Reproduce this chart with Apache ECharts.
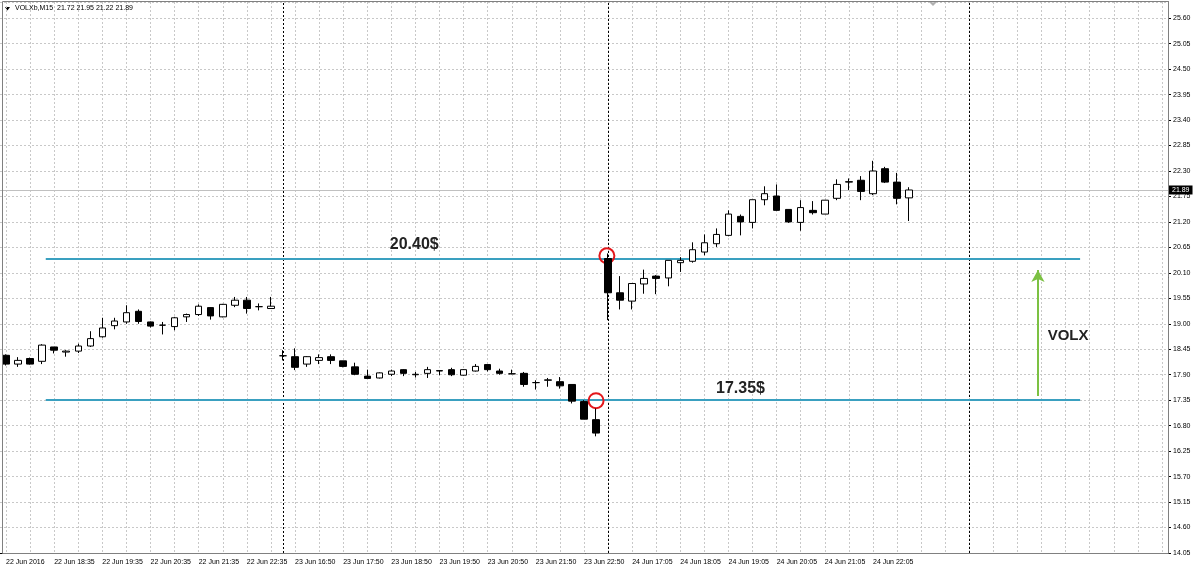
<!DOCTYPE html>
<html>
<head>
<meta charset="utf-8">
<title>VOLXb,M15</title>
<script src="https://cdn.jsdelivr.net/npm/echarts@6/dist/echarts.min.js"></script>
<style>
  html, body { margin: 0; padding: 0; background: #fff; }
  #chart { width: 1200px; height: 571px; }
</style>
</head>
<body>
<div id="chart"></div>
<script>
  const symbolName = 'VOLXb,M15'

  // M15 bar times per session
  const times22 = ['17:35', '17:50', '18:05', '18:20', '18:35', '18:50', '19:05', '19:20', '19:35', '19:50',
    '20:05', '20:20', '20:35', '20:50', '21:05', '21:20', '21:35', '21:50', '22:05', '22:20', '22:35', '22:50', '23:05']
  const times23 = ['16:35', '16:50', '17:05', '17:20', '17:35', '17:50', '18:05', '18:20', '18:35', '18:50',
    '19:05', '19:20', '19:35', '19:50', '20:05', '20:20', '20:35', '20:50', '21:05', '21:20', '21:35', '21:50',
    '22:05', '22:20', '22:35', '22:50', '23:05']
  const times24 = ['16:35', '16:50', '17:05', '17:20', '17:35', '17:50', '18:05', '18:20', '18:35', '18:50',
    '19:05', '19:20', '19:35', '19:50', '20:05', '20:20', '20:35', '20:50', '21:05', '21:20', '21:35', '21:50',
    '22:05', '22:20', '22:35', '22:50']

  const tickLabels = ['22 Jun 2016', '22 Jun 18:35', '22 Jun 19:35', '22 Jun 20:35', '22 Jun 21:35', '22 Jun 22:35',
    '23 Jun 16:50', '23 Jun 17:50', '23 Jun 18:50', '23 Jun 19:50', '23 Jun 20:50', '23 Jun 21:50', '23 Jun 22:50',
    '24 Jun 17:05', '24 Jun 18:05', '24 Jun 19:05', '24 Jun 20:05', '24 Jun 21:05', '24 Jun 22:05']

  const opens = [18.32, 18.13, 18.25, 18.19, 18.50, 18.39, 18.41, 18.52, 18.72, 18.96,
    19.04, 19.27, 19.04, 18.97, 18.94, 19.15, 19.20, 19.35, 19.15, 19.40, 19.51, 19.37, 19.33,
    18.31, 18.29, 18.13, 18.21, 18.29, 18.20, 18.07, 17.87, 17.83, 17.91, 18.01, 17.90, 17.93,
    17.98, 18.01, 17.89, 17.98, 18.12, 17.98, 17.92, 17.93, 17.73, 17.78, 17.75, 17.69, 17.32, 16.93,
    20.41, 19.67, 19.49, 19.86, 20.03, 19.99, 20.32, 20.35, 20.55, 20.73, 20.91, 21.32, 21.19,
    21.68, 21.76, 21.47, 21.19, 21.45, 21.37, 21.71, 22.06, 22.10, 21.81, 22.35, 22.06, 21.72]
  const closes = [18.13, 18.21, 18.13, 18.54, 18.43, 18.41, 18.52, 18.68, 18.91, 19.06,
    19.24, 19.05, 18.95, 18.97, 19.13, 19.20, 19.38, 19.17, 19.42, 19.51, 19.33, 19.37, 19.38,
    18.31, 18.06, 18.29, 18.27, 18.21, 18.08, 17.91, 17.82, 17.94, 17.98, 17.93, 17.91, 18.01,
    17.99, 17.90, 18.01, 18.08, 18.01, 17.93, 17.92, 17.69, 17.73, 17.79, 17.66, 17.33, 16.94, 16.64,
    19.67, 19.51, 19.87, 19.98, 19.98, 20.37, 20.37, 20.60, 20.75, 20.93, 21.37, 21.20, 21.68,
    21.81, 21.45, 21.20, 21.51, 21.40, 21.67, 22.01, 22.07, 21.86, 22.30, 22.06, 21.71, 21.89]
  const lows = [18.10, 18.07, 18.12, 18.13, 18.36, 18.29, 18.37, 18.50, 18.70, 18.88,
    19.00, 19.00, 18.92, 18.77, 18.86, 19.04, 19.17, 19.09, 19.14, 19.36, 19.22, 19.29, 19.33,
    18.21, 18.00, 18.07, 18.13, 18.13, 18.06, 17.89, 17.82, 17.82, 17.87, 17.87, 17.84, 17.83,
    17.89, 17.87, 17.88, 17.97, 17.97, 17.90, 17.91, 17.64, 17.58, 17.64, 17.60, 17.28, 16.94, 16.57,
    19.08, 19.31, 19.31, 19.65, 19.64, 19.81, 20.12, 20.32, 20.48, 20.66, 20.89, 20.91, 21.06,
    21.56, 21.44, 21.18, 21.01, 21.36, 21.37, 21.67, 21.89, 21.67, 21.78, 22.04, 21.58, 21.22]
  const highs = [18.34, 18.28, 18.27, 18.56, 18.50, 18.43, 18.57, 18.84, 19.13, 19.13,
    19.40, 19.31, 19.05, 19.04, 19.15, 19.22, 19.42, 19.36, 19.43, 19.58, 19.58, 19.44, 19.58,
    18.43, 18.47, 18.30, 18.34, 18.34, 18.20, 18.16, 18.01, 17.95, 18.01, 18.02, 17.96, 18.07,
    18.00, 18.05, 18.02, 18.13, 18.12, 18.03, 18.01, 17.96, 17.78, 17.83, 17.85, 17.69, 17.35, 17.17,
    20.52, 20.03, 19.87, 20.17, 20.05, 20.37, 20.44, 20.76, 20.93, 21.06, 21.45, 21.36, 21.68,
    21.97, 22.01, 21.47, 21.67, 21.65, 21.67, 22.12, 22.14, 22.19, 22.52, 22.39, 22.26, 21.95]

  // annotations drawn on the chart
  const levels = [20.40, 17.35]
  const levelNames = ['20.40$', '17.35$']
  const levelSpan = [3.3, 89.2]
  const levelNotes = [[33.9, 20.70], [61.0, 17.60]]
  const separators = [23, 50, 80]
  const circleMarks = [[49.9, 20.47], [49.0, 17.34]]
  const arrowX = 85.7
  const arrowFromTo = [17.44, 20.16]
  const arrowNote = ['VOLX', 88.2, 18.73]

  const slotCount = 97
  const categories = []
    .concat(times22.map(t => '22 Jun ' + t))
    .concat(times23.map(t => '23 Jun ' + t))
    .concat(times24.map(t => '24 Jun ' + t))
  while (categories.length < slotCount) categories.push('')

  const last = opens.length - 1
  const font = 'Liberation Sans, Arial, sans-serif'
  const gridColor = '#c8c8c8'
  const everyFourth = (i) => i % 4 === 0 && i / 4 < tickLabels.length

  const chart = echarts.init(document.getElementById('chart'))

  const options = {
    animation: false,
    backgroundColor: '#fff',
    title: {
      text: symbolName + '  ' + [opens[last], highs[last], lows[last], closes[last]].map(v => v.toFixed(2)).join(' '),
      left: 15,
      top: 5,
      padding: 0,
      textStyle: { fontSize: 7, fontWeight: 'normal', color: '#000', fontFamily: font }
    },
    graphic: [
      { type: 'polygon', shape: { points: [[5, 7], [10, 7], [7.5, 10.5]] }, style: { fill: '#000' } },
      { type: 'polygon', shape: { points: [[928, 1], [938, 1], [933, 6]] }, style: { fill: '#b0b0b0' } },
      { type: 'rect', shape: { x: 2.5, y: 1.5, width: 1166, height: 552 }, style: { fill: null, stroke: '#808080', lineWidth: 1 }, z: 100 }
    ],
    grid: { left: -1, right: 32, top: 2, bottom: 18 },
    xAxis: [
      {
        type: 'category',
        data: categories,
        boundaryGap: true,
        axisLine: { onZero: false, lineStyle: { color: '#000' } },
        axisTick: { interval: everyFourth, alignWithLabel: true, length: 3, lineStyle: { color: '#000' } },
        axisLabel: {
          interval: everyFourth,
          align: 'left',
          margin: 6,
          fontSize: 7,
          fontFamily: font,
          color: '#000',
          formatter: (v, idx) => tickLabels[idx / 4]
        },
        splitLine: {
          show: true,
          interval: (i) => i % 2 === 0,
          alignWithLabel: true,
          lineStyle: { color: gridColor, type: [2, 2] }
        }
      },
      { type: 'value', min: -0.5, max: slotCount - 0.5, show: false }
    ],
    yAxis: {
      type: 'value',
      position: 'right',
      min: 14.05,
      max: 25.95,
      interval: 0.55,
      axisLine: { show: true, onZero: false, lineStyle: { color: '#000' } },
      axisTick: { show: true, length: 3, lineStyle: { color: '#000' } },
      axisLabel: {
        fontSize: 7,
        margin: 5,
        color: '#000',
        fontFamily: font,
        showMaxLabel: false,
        formatter: v => v.toFixed(2)
      },
      splitLine: { lineStyle: { color: gridColor, type: [2, 2] } }
    },
    series: [
      {
        name: 'bid',
        type: 'line',
        xAxisIndex: 1,
        data: [],
        z: 1,
        markLine: {
          silent: true,
          symbol: ['none', 'none'],
          lineStyle: { color: '#c0c0c0', type: 'solid', width: 1 },
          label: {
            show: true,
            position: 'end',
            distance: 1,
            formatter: p => p.value.toFixed(2),
            backgroundColor: '#000',
            color: '#fff',
            fontSize: 7,
            fontFamily: font,
            padding: [1, 3]
          },
          data: [{ yAxis: closes[last] }]
        }
      },
      {
        name: 'separators',
        type: 'line',
        xAxisIndex: 1,
        data: [],
        z: 2,
        markLine: {
          silent: true,
          symbol: ['none', 'none'],
          label: { show: false },
          lineStyle: { color: '#000', type: [2, 2], width: 1 },
          data: separators.map(i => ({ xAxis: i }))
        }
      },
      {
        name: 'VOLXb',
        type: 'candlestick',
        data: opens.map((o, i) => [o, closes[i], lows[i], highs[i]]),
        barWidth: 7,
        z: 5,
        itemStyle: {
          color: '#fff',
          color0: '#000',
          borderColor: '#000',
          borderColor0: '#000',
          borderColorDoji: '#000',
          borderWidth: 1
        }
      },
      {
        name: 'levels',
        type: 'line',
        xAxisIndex: 1,
        data: [],
        z: 6,
        markLine: {
          silent: true,
          symbol: ['none', 'none'],
          label: { show: false },
          lineStyle: { color: '#3aa0c0', type: 'solid', width: 2 },
          data: levels.map(v => [{ coord: [levelSpan[0], v] }, { coord: [levelSpan[1], v] }])
        },
        markPoint: {
          silent: true,
          symbol: 'circle',
          symbolSize: 1,
          itemStyle: { color: 'rgba(0,0,0,0)' },
          label: {
            show: true,
            position: 'inside',
            formatter: p => p.name,
            fontSize: 16,
            fontWeight: 'bold',
            fontFamily: font,
            color: '#222'
          },
          data: levelNames.map((n, k) => ({ name: n, coord: levelNotes[k] }))
        }
      },
      {
        name: 'arrow',
        type: 'line',
        xAxisIndex: 1,
        data: [],
        z: 6,
        markLine: {
          silent: true,
          symbolSize: [10, 12],
          label: { show: false },
          lineStyle: { color: '#7cc143', type: 'solid', width: 2 },
          data: [[
            { coord: [arrowX, arrowFromTo[0]], symbol: 'none' },
            { coord: [arrowX, arrowFromTo[1]], symbol: 'arrow' }
          ]]
        },
        markPoint: {
          silent: true,
          symbol: 'circle',
          symbolSize: 1,
          itemStyle: { color: 'rgba(0,0,0,0)' },
          label: {
            show: true,
            position: 'inside',
            formatter: p => p.name,
            fontSize: 15,
            fontWeight: 'bold',
            fontFamily: font,
            color: '#222'
          },
          data: [{ name: arrowNote[0], coord: [arrowNote[1], arrowNote[2]] }]
        }
      },
      {
        name: 'circles',
        type: 'line',
        xAxisIndex: 1,
        data: [],
        z: 7,
        markPoint: {
          silent: true,
          symbol: 'circle',
          symbolSize: 15,
          label: { show: false },
          itemStyle: { color: 'rgba(0,0,0,0)', borderColor: '#e3171b', borderWidth: 2 },
          data: circleMarks.map(c => ({ coord: c }))
        }
      }
    ]
  }

  chart.setOption(options)
</script>
</body>
</html>
